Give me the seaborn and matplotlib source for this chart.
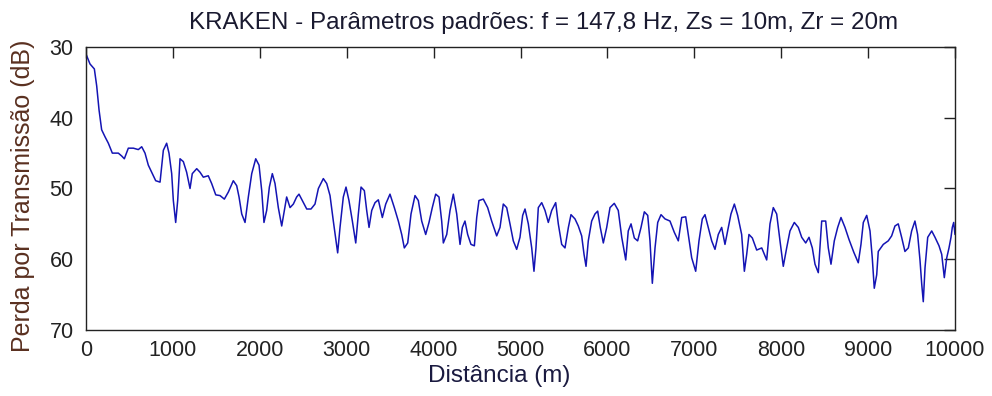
import pandas as pd
import seaborn as sns
import matplotlib.pyplot as plt

# Transmission loss curve (range in m, loss in dB)
distancia = [0, 46, 96, 123, 150, 180, 219, 257, 303, 372, 410, 441, 487, 545, 602, 641, 679, 717, 763, 802,
             852, 890, 928, 955, 986, 1005, 1032, 1055, 1082, 1120, 1158, 1197, 1223, 1274, 1312, 1350, 1407, 1446,
             1493, 1542, 1592, 1638, 1695, 1734, 1761, 1792, 1830, 1868, 1907, 1953, 1991, 2022, 2048, 2079, 2110,
             2144, 2175, 2213, 2252, 2282, 2309, 2348, 2386, 2424, 2451, 2489, 2540, 2589, 2635, 2674, 2731, 2770,
             2808, 2846, 2896, 2923, 2961, 2992, 3026, 3065, 3104, 3134, 3165, 3203, 3230, 3257, 3288, 3326, 3364,
             3410, 3449, 3498, 3548, 3594, 3633, 3663, 3702, 3740, 3786, 3824, 3863, 3909, 3947, 3985, 4024, 4062,
             4093, 4112, 4151, 4189, 4227, 4266, 4304, 4331, 4361, 4392, 4430, 4469, 4496, 4522, 4572, 4622, 4668,
             4726, 4764, 4802, 4841, 4879, 4917, 4956, 4994, 5025, 5052, 5090, 5129, 5155, 5178, 5205, 5244, 5282,
             5320, 5359, 5405, 5435, 5474, 5512, 5551, 5581, 5627, 5665, 5704, 5731, 5754, 5780, 5819, 5857, 5888,
             5918, 5953, 5992, 6030, 6079, 6125, 6165, 6211, 6240, 6272, 6310, 6348, 6387, 6425, 6464, 6490, 6517,
             6548, 6579, 6617, 6663, 6720, 6770, 6816, 6855, 6901, 6931, 6970, 7016, 7054, 7092, 7123, 7161, 7200,
             7238, 7276, 7315, 7353, 7391, 7422, 7461, 7499, 7545, 7576, 7603, 7629, 7668, 7718, 7776, 7833, 7871,
             7909, 7948, 7986, 8024, 8063, 8101, 8151, 8197, 8236, 8282, 8320, 8358, 8389, 8427, 8466, 8512, 8542,
             8573, 8611, 8650, 8688, 8734, 8780, 8835, 8887, 8918, 8945, 8984, 9022, 9048, 9071, 9099, 9117, 9175,
             9232, 9271, 9309, 9347, 9386, 9424, 9463, 9501, 9539, 9570, 9597, 9617, 9635, 9655, 9686, 9732, 9770,
             9816, 9847, 9877, 9905, 9931, 9954, 9969, 9985, 10000]
perda = [31.0, 32.4, 33.1, 35.5, 38.9, 41.7, 42.7, 43.6, 45.0, 45.0, 45.4, 45.8, 44.3, 44.3, 44.5, 44.1, 45.0, 46.7,
         47.9, 48.9, 49.1, 44.6, 43.6, 45.0, 47.9, 51.7, 54.8, 51.7, 45.8, 46.2, 47.7, 50.0, 47.9, 47.2, 47.7, 48.4,
         48.2, 49.3, 50.9, 51.0, 51.5, 50.5, 48.9, 49.6, 51.2, 53.6, 54.8, 51.2, 47.9, 45.8, 46.7, 50.3, 54.8, 53.1,
         49.8, 47.9, 49.3, 52.7, 55.3, 53.1, 51.2, 52.7, 52.2, 51.2, 50.8, 51.7, 52.9, 52.9, 52.2, 50.0, 48.6, 49.3,
         51.0, 54.6, 59.1, 55.5, 51.2, 49.8, 51.7, 54.6, 57.7, 53.6, 49.8, 50.3, 53.1, 55.5, 53.1, 52.0, 51.6, 54.1,
         52.2, 50.8, 52.7, 54.6, 56.5, 58.4, 57.7, 53.6, 51.0, 51.7, 54.6, 56.5, 54.8, 52.7, 50.8, 51.2, 54.6, 57.7,
         56.5, 53.1, 50.8, 53.6, 57.9, 55.5, 54.6, 56.5, 57.9, 58.1, 54.1, 51.7, 51.5, 52.7, 54.6, 56.7, 55.5, 52.2,
         52.7, 55.0, 57.4, 58.6, 56.9, 53.8, 52.9, 55.0, 58.4, 61.7, 58.4, 52.7, 52.0, 53.1, 54.8, 53.1, 52.0, 55.0,
         57.9, 58.4, 55.5, 53.7, 54.3, 55.3, 56.7, 59.3, 61.0, 57.4, 54.6, 53.6, 53.2, 55.5, 57.7, 55.5, 52.7, 52.1,
         53.1, 56.9, 60.1, 56.0, 55.0, 57.0, 57.4, 55.5, 53.3, 53.8, 57.4, 63.4, 58.4, 54.8, 53.7, 54.3, 54.6, 56.2,
         57.4, 54.1, 54.0, 56.5, 59.8, 61.7, 57.4, 54.3, 53.7, 55.5, 57.4, 58.6, 56.5, 55.5, 57.9, 55.5, 53.6, 52.2,
         53.8, 56.5, 61.7, 59.3, 56.5, 57.0, 58.7, 58.4, 60.1, 55.0, 52.7, 53.6, 57.4, 61.0, 58.4, 56.0, 54.8, 55.5,
         56.9, 57.7, 56.9, 58.4, 60.7, 61.9, 54.6, 54.6, 58.4, 60.7, 57.4, 55.5, 54.1, 55.5, 57.2, 59.0, 60.5, 57.9,
         54.8, 53.8, 56.0, 59.8, 64.1, 62.2, 58.9, 57.9, 57.4, 56.7, 55.3, 55.0, 56.9, 58.9, 58.4, 56.0, 54.6, 56.5,
         60.1, 63.5, 66.0, 61.2, 56.9, 56.0, 56.9, 58.1, 59.3, 62.6, 59.8, 58.4, 56.9, 55.5, 54.8, 56.5]

xticks = list(range(0, 10001, 1000))
yticks = [30, 40, 50, 60, 70]

titulo = "KRAKEN - Parâmetros padrões: f = 147,8 Hz, Zs = 10m, Zr = 20m"

df = pd.DataFrame({"Distância (m)": distancia, "Perda por Transmissão (dB)": perda})

sns.set_style("white")
plt.rcParams['font.family'] = ['Liberation Sans', 'DejaVu Sans']

fig = plt.figure(figsize=(9.92, 3.96), dpi=100)
ax = fig.add_axes([0.0867, 0.1667, 0.9627 - 0.0867, 0.8813 - 0.1667])

sns.lineplot(data=df, x="Distância (m)", y="Perda por Transmissão (dB)", ax=ax,
             color='#1414b4', linewidth=1.1, estimator=None)

ax.set_xlim(0, 10000)
ax.set_ylim(70, 30)
ax.set_xticks(xticks)
ax.set_yticks(yticks)
ax.tick_params(direction='in', length=8, width=1, top=True, right=True, labelsize=15.5,
               colors='#222222', pad=7)
ax.tick_params(axis='y', pad=9)
for s in ax.spines.values():
    s.set_color('#222222')
    s.set_linewidth(1)

ax.set_title(titulo, fontsize=17.4, color='#1a1a30', pad=13, x=0.526)
ax.set_xlabel("Distância (m)", fontsize=17.5, color='#1a1a40', labelpad=3, x=0.476)
ax.set_ylabel("Perda por Transmissão (dB)", fontsize=18, color='#5a3020', labelpad=10, y=0.473)

plt.savefig("out.png", dpi=100)
